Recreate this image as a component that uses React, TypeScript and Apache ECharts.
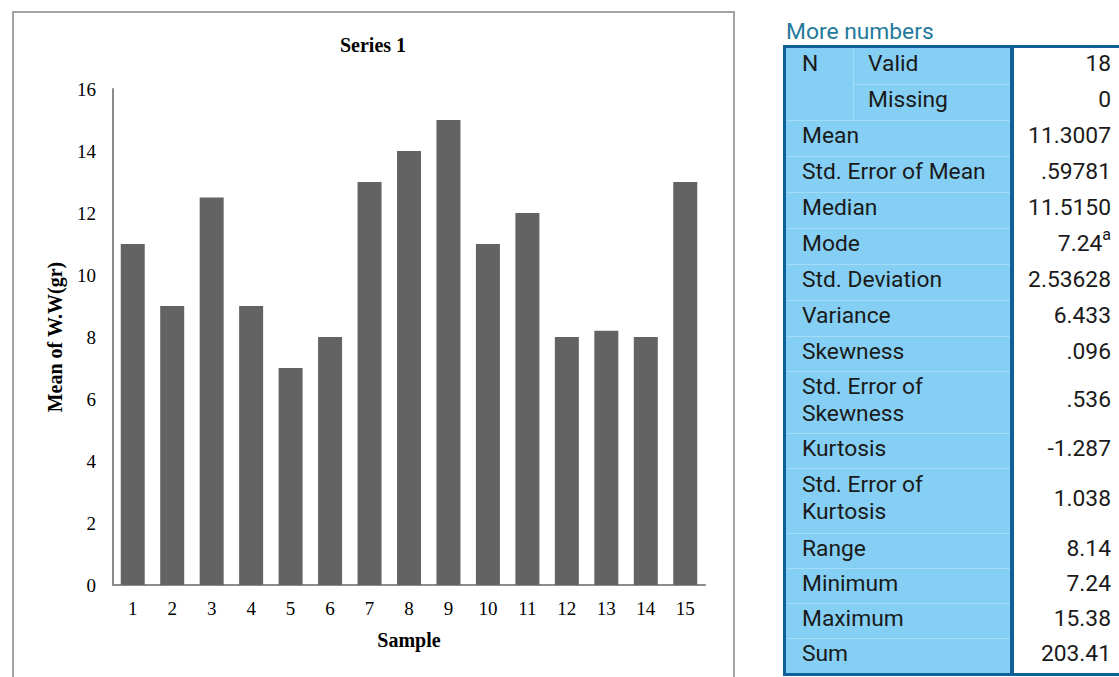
import React, { useEffect, useRef } from "react";
import * as echarts from "echarts";

const categories = ["1", "2", "3", "4", "5", "6", "7", "8", "9", "10", "11", "12", "13", "14", "15"];
const meanValues = [11, 9, 12.5, 9, 7, 8, 13, 14, 15, 11, 12, 8, 8.2, 8, 13];
const chartTitle = "Series 1";
const xName = "Sample";
const yName = "Mean of W.W(gr)";

const tableTitle = "More numbers";
const statGroup = ["N", "N", "", "", "", "", "", "", "", "", "", "", "", "", "", ""];
const statLabels = [
  "Valid", "Missing", "Mean", "Std. Error of Mean", "Median", "Mode", "Std. Deviation",
  "Variance", "Skewness", "Std. Error of\nSkewness", "Kurtosis", "Std. Error of\nKurtosis",
  "Range", "Minimum", "Maximum", "Sum",
];
const statValues = [
  "18", "0", "11.3007", ".59781", "11.5150", "7.24", "2.53628", "6.433", ".096", ".536",
  "-1.287", "1.038", "8.14", "7.24", "15.38", "203.41",
];
const statNotes = ["", "", "", "", "", "a", "", "", "", "", "", "", "", "", "", ""];
const rowHeights = [36, 36, 36, 36, 36, 36, 36, 36, 35, 62, 35, 65, 35, 35, 35, 35];

const FONT = "Roboto, 'Noto Sans', sans-serif";
const SERIF = "'Liberation Serif', 'Times New Roman', serif";
const BLUE_FILL = "#84cff3";
const BLUE_DARK = "#0f5f99";
const BLUE_LINE = "#a3dcf6";
const TFS = 22.8;

function StatsTable() {
  const top0 = 48;
  let y = top0;
  const rows: React.ReactNode[] = [];
  statLabels.forEach((label, i) => {
    const h = rowHeights[i];
    const isGrouped = statGroup[i] === "N";
    const lines = label.split("\n");
    rows.push(
      <div key={"r" + i} style={{ position: "absolute", left: 0, top: y, width: 1119, height: h }}>
        {i > 0 && (
          <div
            style={{
              position: "absolute",
              left: i === 1 ? 853 : 786,
              width: i === 1 ? 1010 - 853 : 1010 - 786,
              top: 0,
              height: 1,
              background: BLUE_LINE,
            }}
          />
        )}
        <div
          style={{
            position: "absolute",
            left: isGrouped ? 868 : 802,
            top: 0,
            height: h - 5,
            display: "flex",
            flexDirection: "column",
            justifyContent: "center",
            fontSize: TFS,
            lineHeight: "27px",
            color: "#1a1a1a",
            whiteSpace: "nowrap",
          }}
        >
          {lines.map((l, k) => (
            <div key={k}>{l}</div>
          ))}
        </div>
        <div
          style={{
            position: "absolute",
            right: 1119 - 1111,
            top: 0,
            height: h - 5,
            display: "flex",
            alignItems: "center",
            fontSize: TFS,
            color: "#1a1a1a",
            whiteSpace: "nowrap",
          }}
        >
          {statValues[i]}
          {statNotes[i] && (
            <span style={{ fontSize: 16, position: "relative", top: -9 }}>{statNotes[i]}</span>
          )}
        </div>
      </div>
    );
    y += h;
  });
  const bottom = y;
  return (
    <div style={{ position: "absolute", left: 0, top: 0, width: 1119, height: 677, fontFamily: FONT, pointerEvents: "none" }}>
      <div style={{ position: "absolute", left: 786, top: 18, fontSize: TFS, lineHeight: "28px", color: "#1f7a9c", whiteSpace: "nowrap" }}>
        {tableTitle}
      </div>
      <div style={{ position: "absolute", left: 784, top: 45, width: 1012 - 784, height: bottom - 45 + 3, background: BLUE_FILL }} />
      <div style={{ position: "absolute", left: 783, top: 45, width: 1119 - 783, height: 3, background: BLUE_DARK }} />
      <div style={{ position: "absolute", left: 783, top: bottom, width: 1119 - 783, height: 3, background: BLUE_DARK }} />
      <div style={{ position: "absolute", left: 783, top: 45, width: 3, height: bottom - 45 + 3, background: BLUE_DARK }} />
      <div style={{ position: "absolute", left: 1010, top: 45, width: 4, height: bottom - 45 + 3, background: BLUE_DARK }} />
      <div style={{ position: "absolute", left: 853, top: 48, width: 1, height: 72, background: BLUE_LINE }} />
      <div style={{ position: "absolute", left: 802, top: 48, height: 31, display: "flex", alignItems: "center", fontSize: TFS, color: "#1a1a1a" }}>
        N
      </div>
      {rows}
    </div>
  );
}

export default function App() {
  const ref = useRef<HTMLDivElement>(null);
  useEffect(() => {
    if (!ref.current) return;
    const chart = echarts.init(ref.current, undefined, { renderer: "svg" });
    chart.setOption({
      animation: false,
      backgroundColor: "#ffffff",
      textStyle: { fontFamily: SERIF },
      graphic: [
        {
          type: "rect",
          shape: { x: 13, y: 12, width: 721, height: 700 },
          style: { fill: "none", stroke: "#a3a3a3", lineWidth: 2 },
          silent: true,
        },
        {
          type: "text",
          x: 373,
          y: 45,
          style: {
            text: chartTitle,
            textAlign: "center",
            textVerticalAlign: "middle",
            font: "bold 20px 'Liberation Serif', serif",
            fill: "#000",
          },
        },
      ],
      grid: { left: 113, right: 414, top: 89, bottom: 92, containLabel: false },
      xAxis: {
        type: "category",
        data: categories,
        name: xName,
        nameLocation: "middle",
        nameGap: 45,
        nameTextStyle: { fontWeight: "bold", fontSize: 20, color: "#000", fontFamily: SERIF },
        axisLine: { show: true, lineStyle: { color: "#8c8c8c", width: 2 } },
        axisTick: { show: false },
        axisLabel: { color: "#000", fontSize: 19, margin: 14, fontFamily: SERIF },
        splitLine: { show: false },
      },
      yAxis: {
        type: "value",
        min: 0,
        max: 16,
        interval: 2,
        name: yName,
        nameLocation: "middle",
        nameGap: 48,
        nameRotate: 90,
        nameTextStyle: { fontWeight: "bold", fontSize: 20, color: "#000", fontFamily: SERIF },
        axisLine: { show: true, lineStyle: { color: "#8c8c8c", width: 2 } },
        axisTick: { show: false },
        axisLabel: { color: "#000", fontSize: 19, margin: 17, fontFamily: SERIF },
        splitLine: { show: false },
      },
      series: [
        {
          type: "bar",
          data: meanValues,
          barWidth: 24,
          itemStyle: { color: "#636363" },
        },
      ],
    });
    return () => chart.dispose();
  }, []);
  return (
    <div style={{ position: "fixed", left: 0, top: 0, width: 1119, height: 677, overflow: "hidden", background: "#fff" }}>
      <div ref={ref} style={{ position: "absolute", left: 0, top: 0, width: 1119, height: 677 }} />
      <StatsTable />
    </div>
  );
}
